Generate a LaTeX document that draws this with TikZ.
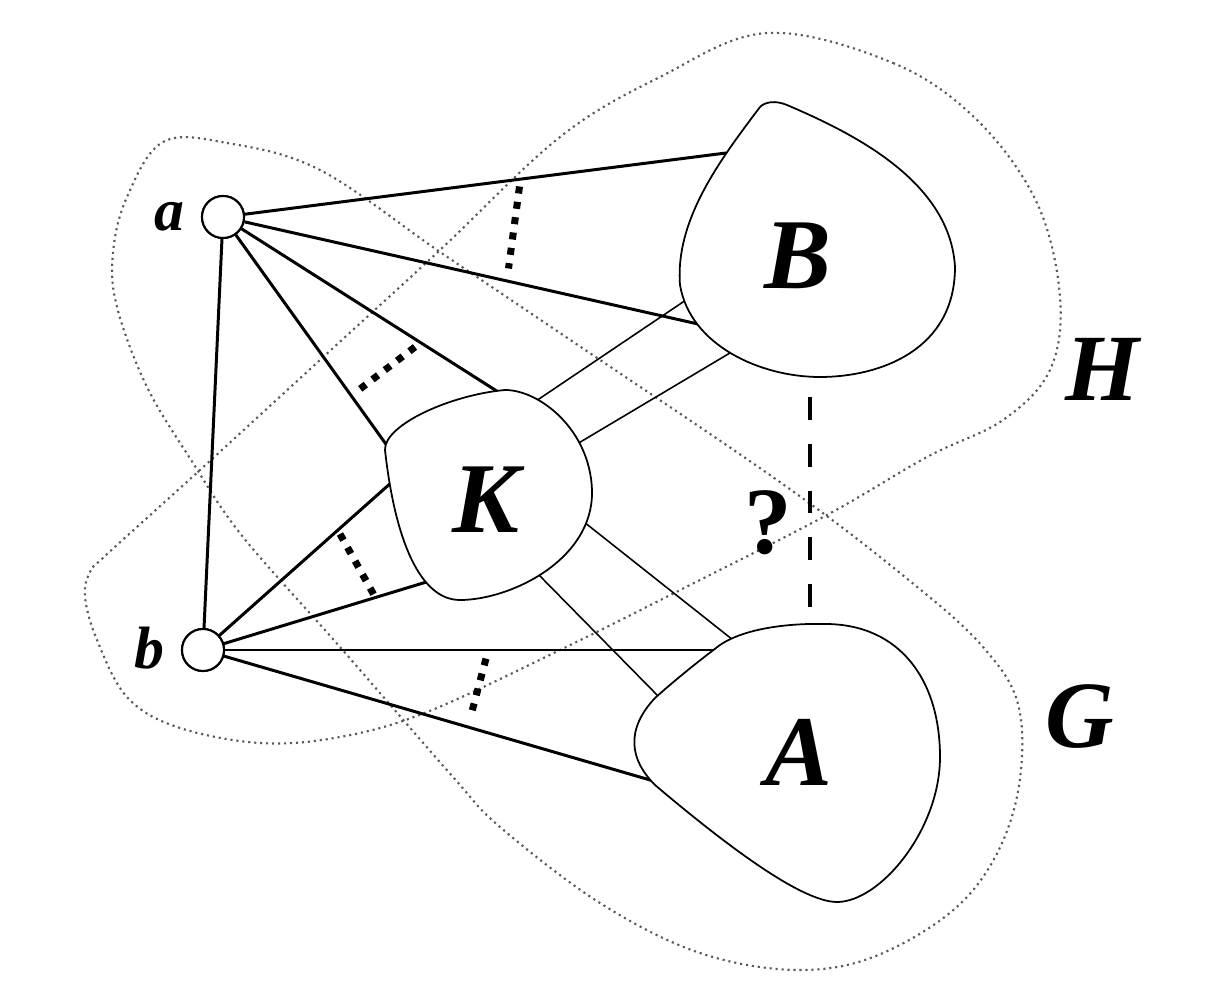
\documentclass[tikz,border=0pt]{standalone}
\usepackage{fontspec}
\setmainfont{Liberation Serif}
\begin{document}
\begin{tikzpicture}[x=0.01cm,y=-0.01cm,
  blob/.style={draw, line width=0.5pt, fill=white},
  region/.style={draw=black!65, line width=0.6pt, dash pattern=on 0.6pt off 1.1pt},
  thickedge/.style={line width=0.85pt},
  thinedge/.style={line width=0.45pt},
  vtx/.style={circle, draw, line width=0.6pt, minimum size=0.42cm, inner sep=0pt, fill=white},
  marker/.style={line width=2pt, dash pattern=on 2pt off 2.4pt},
  qdash/.style={line width=1.1pt, dash pattern=on 6.5pt off 6.8pt},
  big/.style={font=\fontsize{28.5}{30}\selectfont\bfseries\itshape, inner sep=0pt},
  setlabel/.style={font=\fontsize{27}{30}\selectfont\bfseries\itshape, inner sep=0pt},
  vlabel/.style={font=\fontsize{17}{20}\selectfont\bfseries\itshape, inner sep=0pt},
  qlabel/.style={font=\fontsize{27}{30}\selectfont\bfseries, inner sep=0pt}]
\useasboundingbox (0,0) rectangle (1214,994);

% regions H and G
\draw[region] plot[smooth cycle, tension=0.6] coordinates {
 (767,33) (893,63) (977,120) (1037,203) (1060,297) (1050,370) (1003,420)
 (927,457) (827,515) (694,583) (560,650) (427,712) (340,737) (260,743)
 (177,727) (127,697) (97,640) (85,597) (90,572) (105,556) (200,470)
 (320,360) (440,250) (560,137) (660,77)};
\draw[region] plot[smooth cycle, tension=0.6] coordinates {
 (163,142) (227,143) (320,170) (440,252) (560,333) (777,480) (900,573)
 (983,647) (1020,713) (1013,813) (967,897) (883,953) (800,970) (700,953)
 (600,903) (500,827) (453,777) (340,647) (243,537) (193,463) (147,387)
 (117,307) (113,253) (127,197)};

% attachment points (slightly inside the blobs)
\coordinate (B1) at (726,153);
\coordinate (B2) at (698,324);
\coordinate (B3) at (686,300);
\coordinate (B4) at (735,350);
\coordinate (Bd) at (810,397);
\coordinate (K1) at (503,395);
\coordinate (K2) at (388,447);
\coordinate (K3) at (392,482);
\coordinate (K4) at (433,580);
\coordinate (K5) at (536,401);
\coordinate (K6) at (577,444);
\coordinate (K7) at (584,522);
\coordinate (K8) at (536,572);
\coordinate (A1) at (718,650);
\coordinate (A2) at (657,782);
\coordinate (A3) at (733,640);
\coordinate (A4) at (661,699);
\coordinate (Ad) at (810,612);

% vertices
\node[vtx] (a) at (223,217) {};
\node[vtx] (b) at (203,650) {};

% thick edges
\draw[thickedge] (a) -- (B1);
\draw[thickedge] (a) -- (B2);
\draw[thickedge] (a) -- (K1);
\draw[thickedge] (a) -- (K2);
\draw[thickedge] (a) -- (b);
\draw[thickedge] (b) -- (K3);
\draw[thickedge] (b) -- (K4);
\draw[thickedge] (b) -- (A1);
\draw[thickedge] (b) -- (A2);

% thin edges
\draw[thinedge] (K5) -- (B3);
\draw[thinedge] (K6) -- (B4);
\draw[thinedge] (K7) -- (A3);
\draw[thinedge] (K8) -- (A4);

% blobs (drawn over edge ends)
\draw[blob] (760,107) .. controls (765,102) and (775,100) .. (787,105)
  .. controls (850,132) and (950,180) .. (955,267)
  .. controls (955,350) and (880,377) .. (820,377)
  .. controls (760,377) and (690,345) .. (680,285)
  .. controls (675,220) and (720,160) .. cycle;
\draw[blob] (940,757) .. controls (940,830) and (880,902) .. (837,902)
  .. controls (800,902) and (720,840) .. (655,785)
  .. controls (630,760) and (625,730) .. (655,698)
  .. controls (675,680) and (700,660) .. (720,645)
  .. controls (745,628) and (790,623) .. (827,624)
  .. controls (900,625) and (940,680) .. cycle;
\draw[blob] (460,600) .. controls (420,600) and (395,540) .. (385,450)
  .. controls (384,425) and (450,395) .. (505,390)
  .. controls (540,390) and (590,430) .. (592,490)
  .. controls (594,560) and (510,600) .. cycle;

% dashed question edge
\draw[qdash] (Bd) -- (Ad);

% markers
\draw[marker] (519.5,186.5) -- (508.5,268.5);
\draw[marker] (415,347) -- (360,389);
\draw[marker] (340,534) -- (374,595);
\draw[marker] (486,658.6) -- (472,711.4);

% vertices redrawn on top
\node[vtx] at (a) {};
\node[vtx] at (b) {};

% labels
\node[vlabel] (la) at (169,217) {a};
\node[vlabel] (lb) at (149,648) {b};
\node[big] (lB) at (798,256) {B};
\node[big] (lK) at (486,500) {K};
\node[big] (lA) at (799,752) {A};
\node[setlabel] (lH) at (1102,369) {H};
\node[setlabel] (lG) at (1080,717) {G};
\node[qlabel] (lq) at (768,523) {?};
\end{tikzpicture}
\end{document}
